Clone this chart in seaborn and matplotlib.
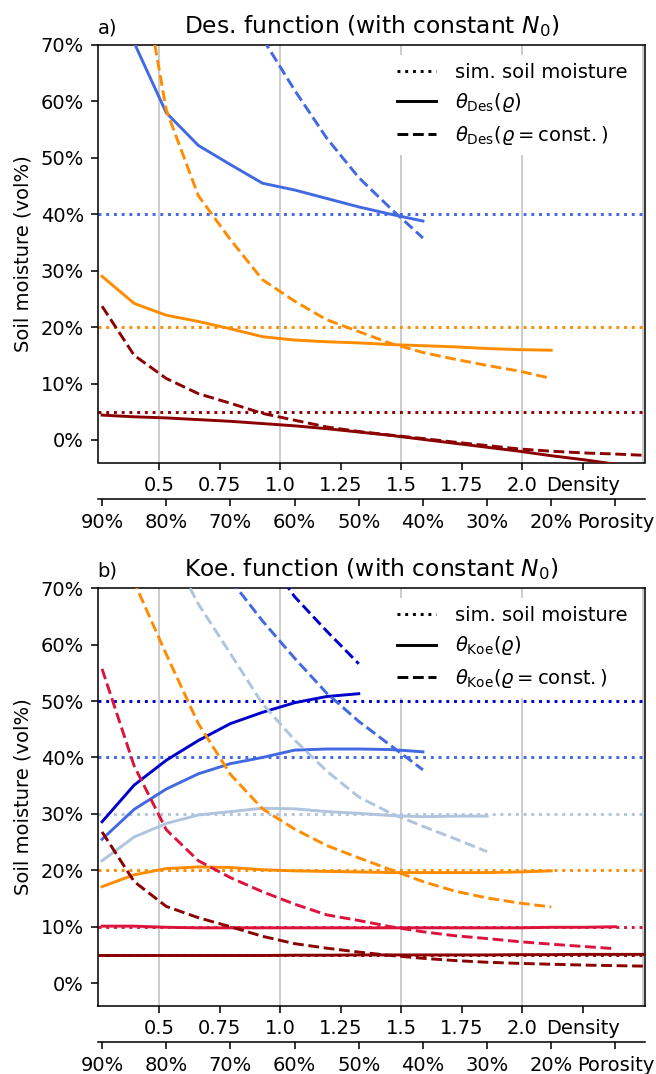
import numpy as np
import matplotlib
matplotlib.use("Agg")
import matplotlib.pyplot as plt
import seaborn as sns
from matplotlib.lines import Line2D
from matplotlib.ticker import PercentFormatter, MultipleLocator

# ---------------- data ----------------
porosity = [0.90, 0.85, 0.80, 0.75, 0.70, 0.65, 0.60, 0.55, 0.50,
            0.45, 0.40, 0.35, 0.30, 0.25, 0.20, 0.15, 0.10, 0.05]
PARTICLE_DENSITY = 2.65

density_ticks = [0.5, 0.75, 1.0, 1.25, 1.5, 1.75, 2.0, 2.25]
density_labels = ["0.5", "0.75", "1.0", "1.25", "1.5", "1.75", "2.0", "Density"]
porosity_ticks = [0.9, 0.8, 0.7, 0.6, 0.5, 0.4, 0.3, 0.2, 0.1]
porosity_labels = ["90%", "80%", "70%", "60%", "50%", "40%", "30%", "20%", "Porosity"]
moisture_ticks = [0, 10, 20, 30, 40, 50, 60, 70]

# Panel a: Desilets function
sim_a = [40, 20, 5]
colors_a = ["royalblue", "darkorange", "darkred"]
des_rho_40 = [96.0, 70.4, 58.0, 52.2, 48.8, 45.5, 44.3, 42.8, 41.3, 40.0, 38.8]
des_const_40 = [130.0, 115.0, 102.0, 91.0, 81.0, 71.2, 62.0, 53.5, 46.5, 41.0, 35.8]
des_rho_20 = [29.0, 24.2, 22.1, 21.0, 19.7, 18.3, 17.7, 17.4, 17.2, 16.9, 16.7,
              16.5, 16.2, 16.0, 15.9]
des_const_20 = [125.0, 91.0, 58.5, 43.3, 35.5, 28.4, 24.6, 21.3, 19.2, 17.1, 15.5,
                14.3, 13.2, 12.2, 10.9]
des_rho_5 = [4.4, 4.1, 3.9, 3.6, 3.3, 2.9, 2.5, 2.0, 1.4, 0.8, 0.1, -0.6, -1.3,
             -2.0, -2.8, -3.5, -4.3, -5.0]
des_const_5 = [23.7, 15.0, 10.9, 8.2, 6.5, 4.7, 3.5, 2.3, 1.5, 0.85, 0.25, -0.4,
               -1.0, -1.6, -2.0, -2.3, -2.5, -2.75]

# Panel b: Koehli function
sim_b = [50, 40, 30, 20, 10, 5]
colors_b = ["mediumblue", "royalblue", "lightsteelblue", "darkorange", "crimson", "darkred"]
koe_rho_50 = [28.6, 35.1, 39.5, 43.0, 46.0, 48.0, 49.7, 50.8, 51.3]
koe_const_50 = [140.0, 118.0, 104.0, 93.0, 84.0, 76.5, 68.5, 62.4, 56.6]
koe_rho_40 = [25.5, 30.8, 34.4, 37.1, 38.9, 40.0, 41.3, 41.5, 41.5, 41.4, 41.0]
koe_const_40 = [118.0, 102.0, 90.0, 80.0, 71.5, 64.2, 57.6, 51.4, 46.4, 42.1, 37.8]
koe_rho_30 = [21.7, 25.9, 28.3, 29.8, 30.4, 31.0, 30.9, 30.4, 30.1, 29.7, 29.5, 29.6, 29.6]
koe_const_30 = [105.0, 90.0, 78.0, 67.2, 58.4, 49.5, 43.1, 37.6, 33.0, 30.1, 27.8, 25.6, 23.3]
koe_rho_20 = [17.1, 19.2, 20.3, 20.6, 20.5, 20.1, 19.9, 19.8, 19.7, 19.6, 19.6, 19.6,
              19.6, 19.7, 19.9]
koe_const_20 = [90.0, 71.1, 58.3, 46.0, 37.0, 30.9, 27.3, 24.4, 22.2, 20.1, 18.0, 16.3,
                15.1, 14.2, 13.5]
koe_rho_10 = [10.1, 10.1, 9.9, 9.8, 9.8, 9.8, 9.8, 9.8, 9.8, 9.8, 9.8, 9.8, 9.8, 9.8,
              9.9, 9.9, 10.0]
koe_const_10 = [55.7, 38.5, 27.2, 21.7, 18.7, 16.2, 14.0, 12.1, 11.1, 10.0, 9.1, 8.4,
                7.9, 7.35, 6.9, 6.5, 6.1]
koe_rho_5 = [4.9, 4.9, 4.9, 4.9, 4.9, 4.9, 4.95, 4.95, 5.0, 5.0, 5.0, 5.0, 5.0, 5.05,
             5.05, 5.1, 5.1, 5.1]
koe_const_5 = [26.8, 18.0, 13.6, 11.6, 10.0, 8.3, 7.0, 6.2, 5.5, 4.9, 4.4, 4.0, 3.7,
               3.5, 3.35, 3.2, 3.1, 3.0]

# ---------------- figure ----------------
DPI = 140
W, H = 656, 1074
fig = plt.figure(figsize=(W / DPI, H / DPI), dpi=DPI)


def dens_to_por(d):
    return 1 - np.asarray(d, dtype=float) / PARTICLE_DENSITY


def por_to_dens(p):
    return PARTICLE_DENSITY * (1 - np.asarray(p, dtype=float))


def draw_panel(rect, sims, colors, rho_series, const_series, title, letter, fname):
    ax = fig.add_axes(rect)
    for sim, c, yr, yc in zip(sims, colors, rho_series, const_series):
        dens_r = por_to_dens(porosity[:len(yr)])
        dens_c = por_to_dens(porosity[:len(yc)])
        ax.axhline(sim, color=c, ls=":", lw=1.5, zorder=2)
        sns.lineplot(x=dens_r, y=yr, ax=ax, color=c, lw=1.5, errorbar=None,
                     sort=False, zorder=3)
        sns.lineplot(x=dens_c, y=yc, ax=ax, color=c, lw=1.5, linestyle="--",
                     errorbar=None, sort=False, zorder=3)

    ax.set_xlim(0.247, 2.507)
    ax.set_ylim(-4, 70)
    ax.set_xticks(density_ticks, labels=density_labels)
    ax.set_yticks(moisture_ticks)
    ax.yaxis.set_major_formatter(PercentFormatter(xmax=100, decimals=0))
    ax.xaxis.set_minor_locator(MultipleLocator(0.5))
    ax.xaxis.remove_overlapping_locs = False
    ax.tick_params(axis="x", which="minor", length=0)
    ax.grid(True, which="minor", axis="x", color="0.8", lw=1.0)
    ax.set_ylabel("Soil moisture (vol%)", fontsize=10)
    ax.set_xlabel("")
    ax.tick_params(labelsize=10)

    ax.set_title(title, fontsize=12)
    ax.set_title(letter, loc="left", fontsize=10)

    handles = [Line2D([], [], color="k", ls=":", lw=1.5),
               Line2D([], [], color="k", ls="-", lw=1.5),
               Line2D([], [], color="k", ls="--", lw=1.5)]
    labels = ["sim. soil moisture",
              r"$\theta_{\mathrm{%s}}(\varrho)$" % fname,
              r"$\theta_{\mathrm{%s}}(\varrho = \mathrm{const.})$" % fname]
    leg = ax.legend(handles, labels, loc="upper right", fontsize=10,
                    framealpha=1.0, edgecolor="none", facecolor="white",
                    handletextpad=1.0)
    leg.set_zorder(5)

    sec = ax.secondary_xaxis(-0.0881, functions=(dens_to_por, por_to_dens))
    sec.set_xticks(porosity_ticks, labels=porosity_labels)
    sec.tick_params(labelsize=10)
    return ax


axw = (645 - 97.7) / W
axh = (462.5 - 45) / H
draw_panel([97.7 / W, 1 - 462.5 / H, axw, axh], sim_a, colors_a,
           [des_rho_40, des_rho_20, des_rho_5],
           [des_const_40, des_const_20, des_const_5],
           r"Des. function (with constant $N_0$)", "a)", "Des")
draw_panel([97.7 / W, 1 - 1005.7 / H, axw, axh], sim_b, colors_b,
           [koe_rho_50, koe_rho_40, koe_rho_30, koe_rho_20, koe_rho_10, koe_rho_5],
           [koe_const_50, koe_const_40, koe_const_30, koe_const_20, koe_const_10, koe_const_5],
           r"Koe. function (with constant $N_0$)", "b)", "Koe")

fig.savefig("out.png", dpi=DPI)
